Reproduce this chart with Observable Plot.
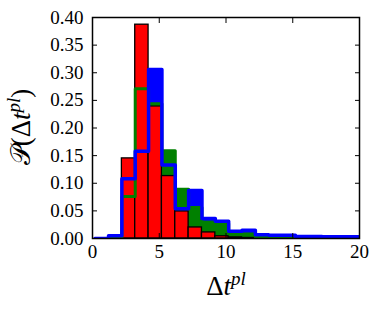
<!DOCTYPE html>
<html><head><meta charset="utf-8">
<script src="https://cdn.jsdelivr.net/npm/d3@7"></script>
<script src="https://cdn.jsdelivr.net/npm/@observablehq/plot@0.6"></script>
<style>
body{margin:0;background:#fff}
svg{display:block}
</style>
</head><body><div id="chart"></div>
<script>
// bin edges (Δt^pl)
const binEdges = [0.2,1.2,2.2,3.2,4.2,5.2,6.2,7.2,8.2,9.2,10.2,11.2,12.2,13.2,14.2,15.2,16.2,17.2,18.2,19.2,20.2];
// blue histogram
const blueVals  = [0,0.005,0.108,0.158,0.306,0.133,0.054,0.087,0.036,0.031,0.013,0.015,0.007,0.006,0.006,0.0035,0.0035,0.003,0.003,0.003];
// green histogram
const greenVals = [0,0,0.076,0.271,0.244,0.159,0.089,0.056,0.030,0.027,0.0085,0.008,0.003,0.001,0,0,0,0,0,0];
// red histogram
const redVals   = [0,0,0.145,0.387,0.239,0.113,0.049,0.020,0.011,0.004,0.002,0.001,0.0005,0,0,0,0,0,0,0];
const xTicks = [0,5,10,15,20];
const yTicks = [0,0.05,0.10,0.15,0.20,0.25,0.30,0.35,0.40];

function stepPoints(vals){
  const n = vals.length;
  const pts = [{x: binEdges[0], y: 0}];
  for (let i = 0; i < n; i++) pts.push({x: binEdges[i], y: vals[i]});
  pts.push({x: binEdges[n], y: vals[n-1]});
  pts.push({x: binEdges[n], y: 0});
  return pts;
}
const redBars = redVals.map((v,i)=>({x1: binEdges[i], x2: binEdges[i+1], y: v})).filter(d=>d.y>0);

const font = "Liberation Serif";
const chart = Plot.plot({
  width: 381, height: 310,
  marginLeft: 92, marginRight: 22, marginTop: 17, marginBottom: 72,
  x: {domain: [0,20]},
  y: {domain: [0,0.4]},
  style: {fontFamily: font, fontSize: "19px", background: "#fff", color: "#000"},
  marks: [
    Plot.areaY(stepPoints(blueVals), {x:"x", y:"y", curve:"step-after", fill:"#0000ff", clip:true}),
    Plot.areaY(stepPoints(greenVals), {x:"x", y:"y", curve:"step-after", fill:"#008000", clip:true}),
    Plot.rectY(redBars, {x1:"x1", x2:"x2", y:"y", fill:"#ff0000", stroke:"#000", strokeWidth:1.3, clip:true}),
    Plot.lineY(stepPoints(greenVals), {x:"x", y:"y", curve:"step-after", stroke:"#008000", strokeWidth:3, clip:true}),
    Plot.lineY(stepPoints(blueVals), {x:"x", y:"y", curve:"step-after", stroke:"#0000ff", strokeWidth:3.5, clip:true}),
    Plot.frame({stroke:"#000", strokeWidth:1.5}),
    Plot.axisX(xTicks, {anchor:"bottom", tickSize:0, tickPadding:6, tickFormat:d=>String(d), label:null}),
    Plot.axisX(xTicks, {anchor:"bottom", tickSize:-5, tickFormat:()=>"", label:null}),
    Plot.axisX(xTicks, {anchor:"top", tickSize:-5, tickFormat:()=>"", label:null}),
    Plot.axisY(yTicks, {anchor:"left", tickSize:0, tickPadding:9, tickFormat:d3.format(".2f"), label:null}),
    Plot.axisY(yTicks, {anchor:"left", tickSize:-5, tickFormat:()=>"", label:null}),
    Plot.axisY(yTicks, {anchor:"right", tickSize:-5, tickFormat:()=>"", label:null})
  ]
});
document.getElementById("chart").appendChild(chart);

// axis titles with superscripts
const svg = d3.select(chart);
const xl = svg.append("text").attr("x", 226).attr("y", 295).attr("text-anchor","middle")
  .style("font-size","27px").attr("fill","#000");
xl.append("tspan").text("Δ");
xl.append("tspan").style("font-style","italic").text("t");
xl.append("tspan").attr("dy", -10).style("font-size","19px").style("font-style","italic").text("pl");

const yl = svg.append("text").attr("transform","translate(30,127) rotate(-90)").attr("text-anchor","middle")
  .style("font-size","27px").attr("fill","#000");
yl.append("tspan").text("𝒫(Δ");
yl.append("tspan").style("font-style","italic").text("t");
yl.append("tspan").attr("dy", -10).style("font-size","19px").style("font-style","italic").text("pl");
yl.append("tspan").attr("dy", 10).text(")");
svg.selectAll("text").style("font-family", font);
</script>
</body></html>
